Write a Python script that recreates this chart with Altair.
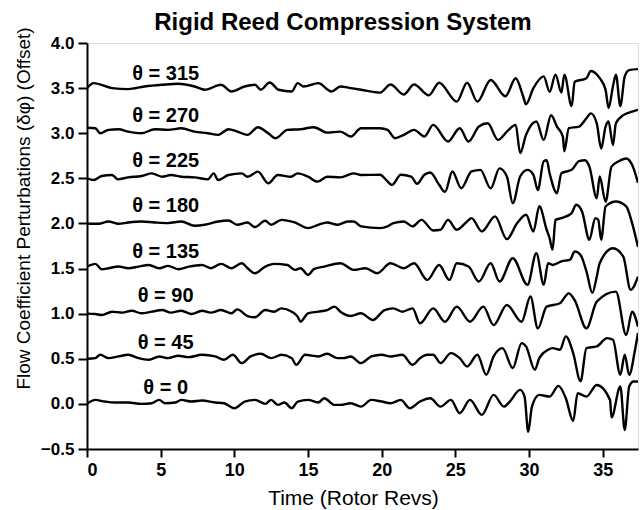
import altair as alt
import pandas as pd

# ---------------- data ----------------
chart_title = "Rigid Reed Compression System"
x_ticks = [0, 5, 10, 15, 20, 25, 30, 35]
y_ticks = [-0.5, 0.0, 0.5, 1.0, 1.5, 2.0, 2.5, 3.0, 3.5, 4.0]
angles = [0, 45, 90, 135, 180, 225, 270, 315]
offsets = [0.0, 0.5, 1.0, 1.5, 2.0, 2.5, 3.0, 3.5]
label_x = [5.34, 5.34, 5.34, 5.34, 5.34, 5.34, 5.34, 5.34]
label_y = [0.18, 0.68, 1.20, 1.68, 2.19, 2.69, 3.19, 3.66]

t0_x = [0.0, 0.56, 1.2, 1.9, 2.8, 3.7, 4.4, 4.9, 5.3, 6.0, 6.4, 7.1, 7.8, 8.7, 9.3, 10.0, 10.7, 11.4, 12.1, 12.5,
        12.95, 13.4, 13.9, 14.3, 15.0, 15.7, 16.1, 16.8,
        17.2, 17.9, 18.6, 19.3, 20.0, 20.6, 21.3, 21.9, 22.6, 23.3, 24.0, 24.7, 25.3, 26.0, 26.8, 27.6, 28.3, 28.7,
        29.4, 29.7, 29.95, 30.2, 30.7, 31.4, 32.0, 32.5, 33.0, 33.3, 33.9, 34.6, 35.5, 35.6, 36.2, 36.5, 36.8, 37.1, 37.4]
t0_dy = [0.0, 0.044, 0.026, 0.015, 0.015, 0.0, 0.007, 0.044, 0.007, 0.015, 0.044, 0.026, 0.037, 0.015, 0.007, -0.048,
         0.026, 0.044, 0.0, 0.044, -0.011, 0.015, -0.048, 0.026, 0.044, 0.015, 0.063, -0.011,
         -0.011, 0.007, -0.03, 0.044, 0.026, 0.007, 0.044, -0.048, 0.026, 0.063, -0.03, 0.044, -0.103, 0.044, -0.122,
         0.1, -0.03, 0.026, 0.155, 0.081, -0.31, -0.03, 0.1, 0.081, 0.2, 0.063, -0.19, 0.118, 0.081, 0.21, 0.044,
         -0.15, 0.192, -0.29, 0.192, 0.248, 0.248]

t45_x = [0.0, 0.56, 0.9, 1.46, 2.14, 2.8, 3.5, 4.2, 4.9, 5.5, 6.2, 6.9, 7.8, 8.7, 9.3, 9.9, 10.5, 11.1, 11.8, 12.5,
         13.2, 13.9, 14.2, 14.8, 15.7, 16.3, 17.0,
         17.4, 17.9, 18.6, 19.3, 20.0, 20.6, 21.4, 22.1, 22.6, 23.1, 23.5, 24.0, 24.7, 25.3, 25.8, 26.5, 27.1, 27.6,
         28.2, 28.9, 29.5, 29.8, 30.4, 30.7, 31.3, 31.6, 32.1, 32.5, 33.0, 33.5, 33.9, 34.6, 35.3, 35.7, 36.2, 36.5,
         36.8, 37.2, 37.4]
t45_dy = [0.0, 0.007, 0.044, 0.007, 0.026, 0.044, 0.007, -0.011, 0.026, 0.007, 0.033, 0.018, 0.044, 0.026, -0.011,
          0.044, -0.048, 0.026, 0.055, 0.007, 0.044, 0.007, -0.067, 0.044, 0.026, 0.055, 0.007,
          0.007, 0.026, -0.048, 0.026, 0.044, 0.026, 0.044, -0.067, 0.007, 0.044, 0.044, -0.048, 0.063, 0.007, -0.085,
          0.044, -0.177, 0.026, 0.118, -0.103, 0.174, 0.137, -0.122, 0.007, 0.1, 0.118, 0.1, 0.248, 0.063, -0.25,
          0.118, 0.137, 0.229, 0.21, -0.177, 0.044, -0.177, 0.1, 0.285]

t90_x = [0.0, 0.56, 1.0, 1.7, 2.4, 3.04, 3.7, 4.4, 5.1, 5.7, 6.4, 7.1, 7.8, 8.4, 9.1, 9.8, 10.2, 10.9, 11.4, 12.1,
         12.7, 13.2, 13.9, 14.3, 14.5, 15.0, 15.7, 16.3, 16.8,
         17.2, 17.9, 18.6, 19.4, 20.2, 20.8, 21.4, 22.1, 22.6, 23.5, 24.3, 25.1, 26.0, 26.9, 27.6, 28.5, 29.5, 30.1,
         30.6, 31.2, 32.1, 32.7, 33.1, 33.9, 34.6, 35.9, 36.6, 37.0, 37.4]
t90_dy = [0.0, -0.004, -0.015, 0.022, 0.011, 0.033, 0.004, 0.022, 0.04, 0.011, 0.033, -0.004, 0.033, 0.011, 0.04,
          0.004, 0.048, -0.026, -0.04, 0.04, 0.022, 0.059, 0.022, -0.033, -0.089, 0.004, 0.022, 0.04, 0.078,
          0.022, -0.026, 0.004, -0.07, 0.04, 0.059, 0.022, 0.059, -0.107, 0.059, -0.089, 0.078, -0.089, 0.078,
          -0.126, 0.096, -0.089, 0.19, -0.163, 0.078, 0.115, 0.225, 0.15, -0.163, 0.133, 0.244, -0.237, 0.022,
          -0.144]

t135_x = [0.0, 0.56, 1.0, 1.46, 2.14, 2.8, 3.5, 4.2, 4.9, 5.5, 6.2, 6.9, 7.8, 8.4, 9.1, 9.8, 10.5, 10.9, 11.4, 12.1,
          12.7, 13.6, 14.1, 14.5, 15.0, 15.4, 16.1,
          17.2, 18.1, 18.9, 19.7, 20.6, 21.5, 22.2, 23.1, 23.9, 24.6, 25.1, 25.9, 26.6, 27.4, 28.0, 28.9, 29.9, 30.5,
          31.0, 31.3, 31.6, 32.2, 32.8, 33.1, 33.5, 33.9, 34.3, 34.6, 34.8, 35.7, 36.4, 36.9, 37.4]
t135_dy = [0.02, 0.052, -0.007, 0.004, 0.022, 0.004, 0.022, 0.04, 0.004, 0.03, -0.007, 0.022, 0.04, 0.004, 0.052,
           0.004, 0.059, 0.004, -0.052, 0.022, 0.052, 0.04, -0.015, 0.004, -0.07, -0.007, 0.022,
           0.059, -0.015, 0.004, -0.052, 0.059, 0.004, 0.059, -0.126, 0.04, -0.126, 0.059, 0.022, -0.144, 0.059,
           -0.144, 0.115, -0.18, 0.17, -0.18, 0.06, 0.04, 0.08, 0.1, 0.19, 0.15, -0.03, -0.27, -0.09, 0.06, 0.225,
           0.133, -0.236, -0.089]

t180_x = [0.0, 0.79, 1.46, 2.14, 2.8, 3.7, 4.6, 5.5, 6.4, 7.3, 8.0, 8.9, 9.6, 10.2, 10.9, 11.4, 12.1, 12.5, 13.2,
          14.1, 15.0, 15.7, 16.3, 17.0, 17.7, 18.1, 18.6,
          19.9, 20.4, 20.8, 21.5, 22.1, 22.7, 23.5, 24.0, 24.5, 25.1, 25.8, 26.1, 26.8, 27.7, 28.5, 29.2, 29.8, 30.3,
          30.7, 31.2, 31.4, 31.6, 31.8, 32.2, 32.9, 33.2, 33.6, 34.1, 34.5, 34.7, 34.9, 35.2, 35.9, 36.6, 37.0, 37.4]
t180_dy = [0.0, -0.004, 0.022, -0.004, 0.011, 0.022, 0.011, 0.004, 0.022, -0.026, -0.015, 0.022, 0.033, -0.015,
           0.011, -0.04, 0.03, -0.015, 0.04, 0.011, -0.052, -0.015, 0.011, -0.015, 0.022, 0.022, -0.033,
           -0.052, -0.033, 0.004, 0.022, -0.033, 0.04, -0.078, -0.07, 0.04, -0.07, 0.022, 0.059, -0.089, 0.078,
           -0.174, 0.004, 0.096, -0.089, 0.19, -0.07, -0.163, -0.29, 0.04, 0.059, 0.115, 0.207, 0.133, -0.18, 0.059,
           0.04, -0.18, 0.19, 0.244, 0.19, 0.004, -0.26]

t225_x = [0.0, 0.45, 1.0, 1.7, 2.1, 2.8, 3.7, 4.4, 5.1, 5.7, 6.4, 7.3, 8.2, 8.6, 8.9, 9.6, 10.5, 10.9, 11.6, 12.3,
          12.95, 13.85, 14.3, 15.0, 15.65, 16.3, 17.2, 18.1, 18.6,
          19.9, 20.3, 20.7, 21.3, 22.0, 22.4, 22.9, 23.3, 23.9, 24.3, 24.8, 25.4, 26.1, 26.7, 27.4, 28.0, 28.5, 28.9,
          29.4, 29.9, 30.3, 30.6, 31.0, 31.2, 31.4, 31.9, 32.2, 32.9, 33.4, 33.8, 34.1, 34.6, 34.8, 35.2, 35.6, 36.1,
          36.6, 37.0, 37.4]
t225_dy = [0.0, -0.018, 0.026, 0.037, -0.011, 0.011, 0.026, 0.055, 0.018, 0.037, 0.018, 0.011, -0.011, 0.055,
           -0.018, 0.037, 0.055, 0.018, 0.074, -0.055, 0.037, 0.018, 0.055, 0.018, -0.037, 0.018, 0.011, 0.055,
           0.037,
           0.039, -0.017, -0.072, 0.039, 0.02, -0.06, 0.039, 0.065, -0.072, -0.15, 0.076, -0.11, 0.076, 0.094, -0.11,
           0.11, 0.02, -0.275, 0.02, 0.094, 0.039, -0.13, 0.19, 0.2, 0.057, -0.165, 0.057, 0.094, 0.19, 0.2, 0.13,
           -0.22, 0.02, -0.26, 0.13, 0.19, 0.22, 0.15, -0.05]

t270_x = [0.0, 0.56, 0.9, 1.46, 2.14, 2.8, 3.7, 4.6, 5.5, 6.4, 7.3, 8.2, 8.9, 9.6, 10.2, 10.9, 11.6, 12.3, 12.8,
          13.6, 14.5, 15.4, 16.3, 17.2, 17.9, 18.6,
          19.9, 20.4, 20.9, 21.5, 22.2, 22.9, 23.5, 24.5, 25.3, 25.9, 26.6, 27.2, 27.9, 28.5, 29.1, 29.4, 29.8, 30.5,
          31.0, 31.5, 31.9, 32.3, 32.4, 32.7, 33.4, 33.9, 34.2, 34.6, 34.9, 35.2, 35.4, 35.7, 35.9, 36.4, 37.0, 37.4]
t270_dy = [0.06, 0.055, 0.0, 0.037, 0.044, 0.018, 0.0, 0.044, 0.037, 0.055, 0.018, 0.0, -0.018, 0.044, 0.018,
           -0.018, 0.067, 0.0, -0.055, 0.037, 0.044, 0.067, 0.007, 0.018, -0.037, 0.055,
           0.055, 0.037, -0.055, -0.018, 0.037, -0.037, 0.092, -0.092, 0.055, -0.092, 0.074, 0.11, -0.074, 0.018,
           0.092, -0.22, -0.018, 0.13, -0.074, 0.2, 0.074, -0.037, -0.2, 0.055, 0.074, 0.166, 0.22, 0.11, -0.17,
           0.074, 0.13, -0.13, 0.11, 0.2, 0.24, 0.26]

t315_x = [0.0, 0.45, 1.7, 2.8, 3.9, 5.1, 6.2, 7.3, 8.0, 9.1, 9.8, 10.7, 11.4, 11.8, 12.4, 13.0, 13.9, 14.3, 14.7,
          15.7, 16.6, 17.2, 17.9, 18.6,
          19.9, 20.6, 21.5, 22.2, 23.2, 23.9, 25.1, 25.8, 26.5, 27.4, 28.4, 29.1, 29.6, 29.8, 30.3, 31.0, 31.4, 31.8,
          32.2, 32.4, 32.9, 33.1, 33.9, 34.2, 34.8, 35.2, 35.4, 35.7, 35.9, 36.2, 36.5, 36.8, 37.4]
t315_dy = [0.0, 0.055, 0.0, -0.011, 0.018, 0.037, 0.048, 0.018, -0.018, 0.037, -0.037, 0.018, 0.037, -0.018, 0.063,
           -0.018, -0.037, 0.055, 0.018, 0.055, -0.037, 0.018, 0.0, -0.018,
           -0.05, 0.04, -0.07, 0.04, -0.08, 0.06, -0.15, 0.06, -0.15, 0.09, -0.09, 0.11, -0.09, -0.18, 0.0, 0.13,
           -0.04, 0.15, -0.05, 0.15, -0.2, 0.07, 0.11, 0.19, 0.11, -0.02, -0.22, 0.02, 0.15, -0.2, 0.13, 0.2, 0.21]

curves = {
    0: (t0_x, t0_dy), 45: (t45_x, t45_dy), 90: (t90_x, t90_dy), 135: (t135_x, t135_dy),
    180: (t180_x, t180_dy), 225: (t225_x, t225_dy), 270: (t270_x, t270_dy), 315: (t315_x, t315_dy),
}

rows = []
for ang, off in zip(angles, offsets):
    xs, dys = curves[ang]
    for i, (xv, dv) in enumerate(zip(xs, dys)):
        rows.append({"theta": ang, "i": i, "time": xv, "value": off + dv})
df = pd.DataFrame(rows)

labels = pd.DataFrame({
    "text": [f"θ = {a}" for a in angles],
    "lx": label_x,
    "ly": label_y,
})

# ---------------- chart ----------------
FONT = "Liberation Sans"

xscale = alt.Scale(domain=[0, 37.4], nice=False)
yscale = alt.Scale(domain=[-0.5, 4.0], nice=False)

x_axis = alt.Axis(
    values=x_ticks, format="d", title="Time (Rotor Revs)", grid=False,
    labelFont=FONT, labelFontSize=18, labelFontWeight="bold", labelColor="black", labelPadding=4,
    tickSize=8, tickWidth=2, tickColor="black", domainColor="black", domainWidth=2,
    titleFont=FONT, titleFontSize=21, titleFontWeight="normal", titleColor="black",
    titleX=266, titleY=55, titleBaseline="alphabetic",
)
y_axis = alt.Axis(
    values=y_ticks, format=".1f", title="Flow Coefficient Perturbations (δφ) (Offset)", grid=False,
    labelFont=FONT, labelFontSize=17, labelFontWeight="bold", labelColor="black", labelPadding=4,
    tickSize=9, tickWidth=2, tickColor="black", domainColor="black", domainWidth=2,
    titleFont=FONT, titleFontSize=19, titleFontWeight="normal", titleColor="black",
    titleX=-64, titleY=165, titleBaseline="middle", titleAngle=-90,
)

lines = alt.Chart(df).mark_line(
    color="black", strokeWidth=2.4, strokeJoin="round", interpolate="monotone", clip=True
).encode(
    x=alt.X("time:Q", scale=xscale, axis=x_axis),
    y=alt.Y("value:Q", scale=yscale, axis=y_axis),
    detail="theta:N",
    order="i:Q",
)

texts = alt.Chart(labels).mark_text(
    font=FONT, fontSize=20, fontWeight="bold", color="black", align="center", baseline="middle"
).encode(
    x=alt.X("lx:Q", scale=xscale),
    y=alt.Y("ly:Q", scale=yscale),
    text="text:N",
)

# chart title drawn as a text mark in the top padding (centered above the plot, slightly left)
title_text = alt.Chart(pd.DataFrame({"t": [chart_title]})).mark_text(
    font=FONT, fontSize=24, fontWeight="bold", color="black", align="center", baseline="alphabetic"
).encode(
    x=alt.value(256),
    y=alt.value(-13),
    text="t:N",
)

chart = alt.layer(lines, texts, title_text).properties(
    width=551,
    height=406,
    autosize=alt.AutoSizeParams(type="none"),
    padding={"left": 87, "top": 43, "right": 2, "bottom": 61},
).configure_view(stroke="#444", strokeWidth=1).configure(background="white")

chart.save("out.html", embed_options={"renderer": "svg", "actions": False})
